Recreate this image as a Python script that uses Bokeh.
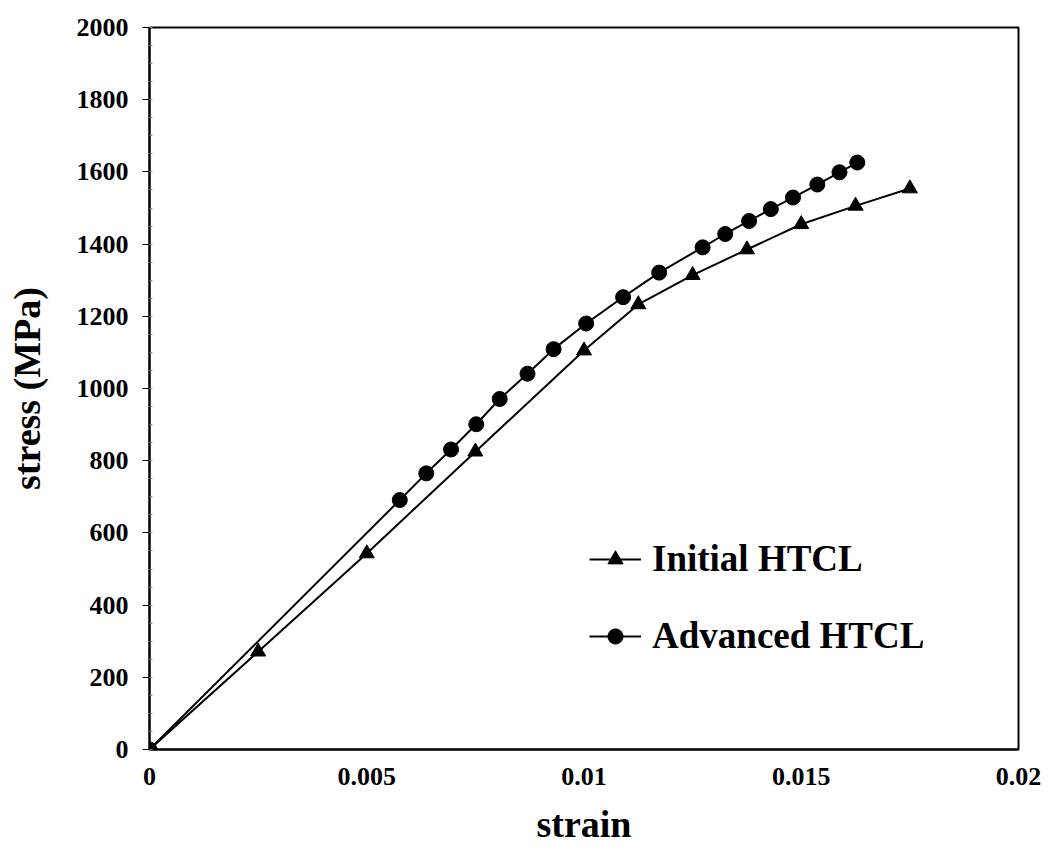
from bokeh.plotting import figure
from bokeh.models import Range1d, FixedTicker, Legend, LegendItem
from bokeh.embed import file_html
from bokeh.resources import INLINE

# ---- data ----
initial_strain = [0.0, 0.0025, 0.005, 0.0075, 0.01, 0.01125, 0.0125, 0.01375, 0.015, 0.01625, 0.0175]
initial_stress = [0, 271, 543, 825, 1105, 1233, 1314, 1385, 1455, 1506, 1554]

advanced_strain = [0.0, 0.00576, 0.00637, 0.00694, 0.00752, 0.00806, 0.0087, 0.0093, 0.01005,
                   0.0109, 0.01173, 0.01273, 0.01325, 0.0138, 0.0143, 0.01481, 0.01537, 0.01588, 0.01629]
advanced_stress = [0, 691, 765, 831, 901, 971, 1041, 1109, 1180,
                   1253, 1321, 1391, 1428, 1464, 1497, 1529, 1565, 1599, 1626]

x_ticks = [0, 0.005, 0.01, 0.015, 0.02]
x_tick_labels = ["0", "0.005", "0.01", "0.015", "0.02"]
y_ticks = [0, 200, 400, 600, 800, 1000, 1200, 1400, 1600, 1800, 2000]
y_tick_labels = [str(v) for v in y_ticks]

series_names = ["Initial HTCL", "Advanced HTCL"]
x_title = "strain"
y_title = "stress (MPa)"

FONT = "Liberation Serif"

p = figure(width=1049, height=854, output_backend="svg", toolbar_location=None,
           x_range=Range1d(0, 0.02), y_range=Range1d(0, 2000),
           min_border_left=149, min_border_right=31, min_border_top=27, min_border_bottom=105)
p.background_fill_color = "white"
p.border_fill_color = "white"
p.grid.visible = False
p.outline_line_color = "black"
p.outline_line_width = 2

# axes
p.xaxis.ticker = FixedTicker(ticks=x_ticks)
p.xaxis.major_label_overrides = dict(zip(x_ticks, x_tick_labels))
p.yaxis.ticker = FixedTicker(ticks=y_ticks, minor_ticks=[v for v in range(0, 2001, 50)])
p.yaxis.major_label_overrides = dict(zip(y_ticks, y_tick_labels))

for ax in (p.xaxis[0], p.yaxis[0]):
    ax.axis_line_color = "black"
    ax.axis_line_width = 2
    ax.major_label_text_font = FONT
    ax.major_label_text_font_style = "bold"
    ax.major_label_text_font_size = "26px"
    ax.major_label_text_color = "black"
    ax.axis_label_text_font = FONT
    ax.axis_label_text_font_style = "bold"
    ax.axis_label_text_font_size = "38px"
    ax.axis_label_text_color = "black"

p.xaxis.axis_label = x_title
p.yaxis.axis_label = y_title

p.xaxis.major_tick_in = 0
p.xaxis.major_tick_out = 0
p.xaxis.minor_tick_in = 0
p.xaxis.minor_tick_out = 0
p.xaxis.major_label_standoff = 18
p.xaxis.axis_label_standoff = 15

p.yaxis.major_tick_in = 0
p.yaxis.major_tick_out = 7
p.yaxis.major_tick_line_width = 1
p.yaxis.minor_tick_in = 3
p.yaxis.minor_tick_out = 0
p.yaxis.minor_tick_line_color = "#888888"
p.yaxis.major_label_standoff = 14
p.yaxis.axis_label_standoff = 26

# series
l1 = p.line(initial_strain, initial_stress, line_color="black", line_width=2)
s1 = p.scatter(initial_strain, initial_stress, marker="triangle", size=15,
               fill_color="black", line_color="black")
l2 = p.line(advanced_strain, advanced_stress, line_color="black", line_width=2)
s2 = p.scatter(advanced_strain, advanced_stress, marker="circle", size=15,
               fill_color="black", line_color="black")

legend = Legend(items=[LegendItem(label=series_names[0], renderers=[l1, s1]),
                       LegendItem(label=series_names[1], renderers=[l2, s2])],
                location=(440, 92))
legend.label_text_font = FONT
legend.label_text_font_style = "bold"
legend.label_text_font_size = "37px"
legend.label_text_color = "black"
legend.glyph_width = 52
legend.glyph_height = 38
legend.label_standoff = 11
legend.spacing = 34
legend.padding = 0
legend.margin = 0
legend.border_line_color = None
legend.background_fill_alpha = 0
p.add_layout(legend, "center")

open("out.html", "w").write(file_html(p, INLINE))
